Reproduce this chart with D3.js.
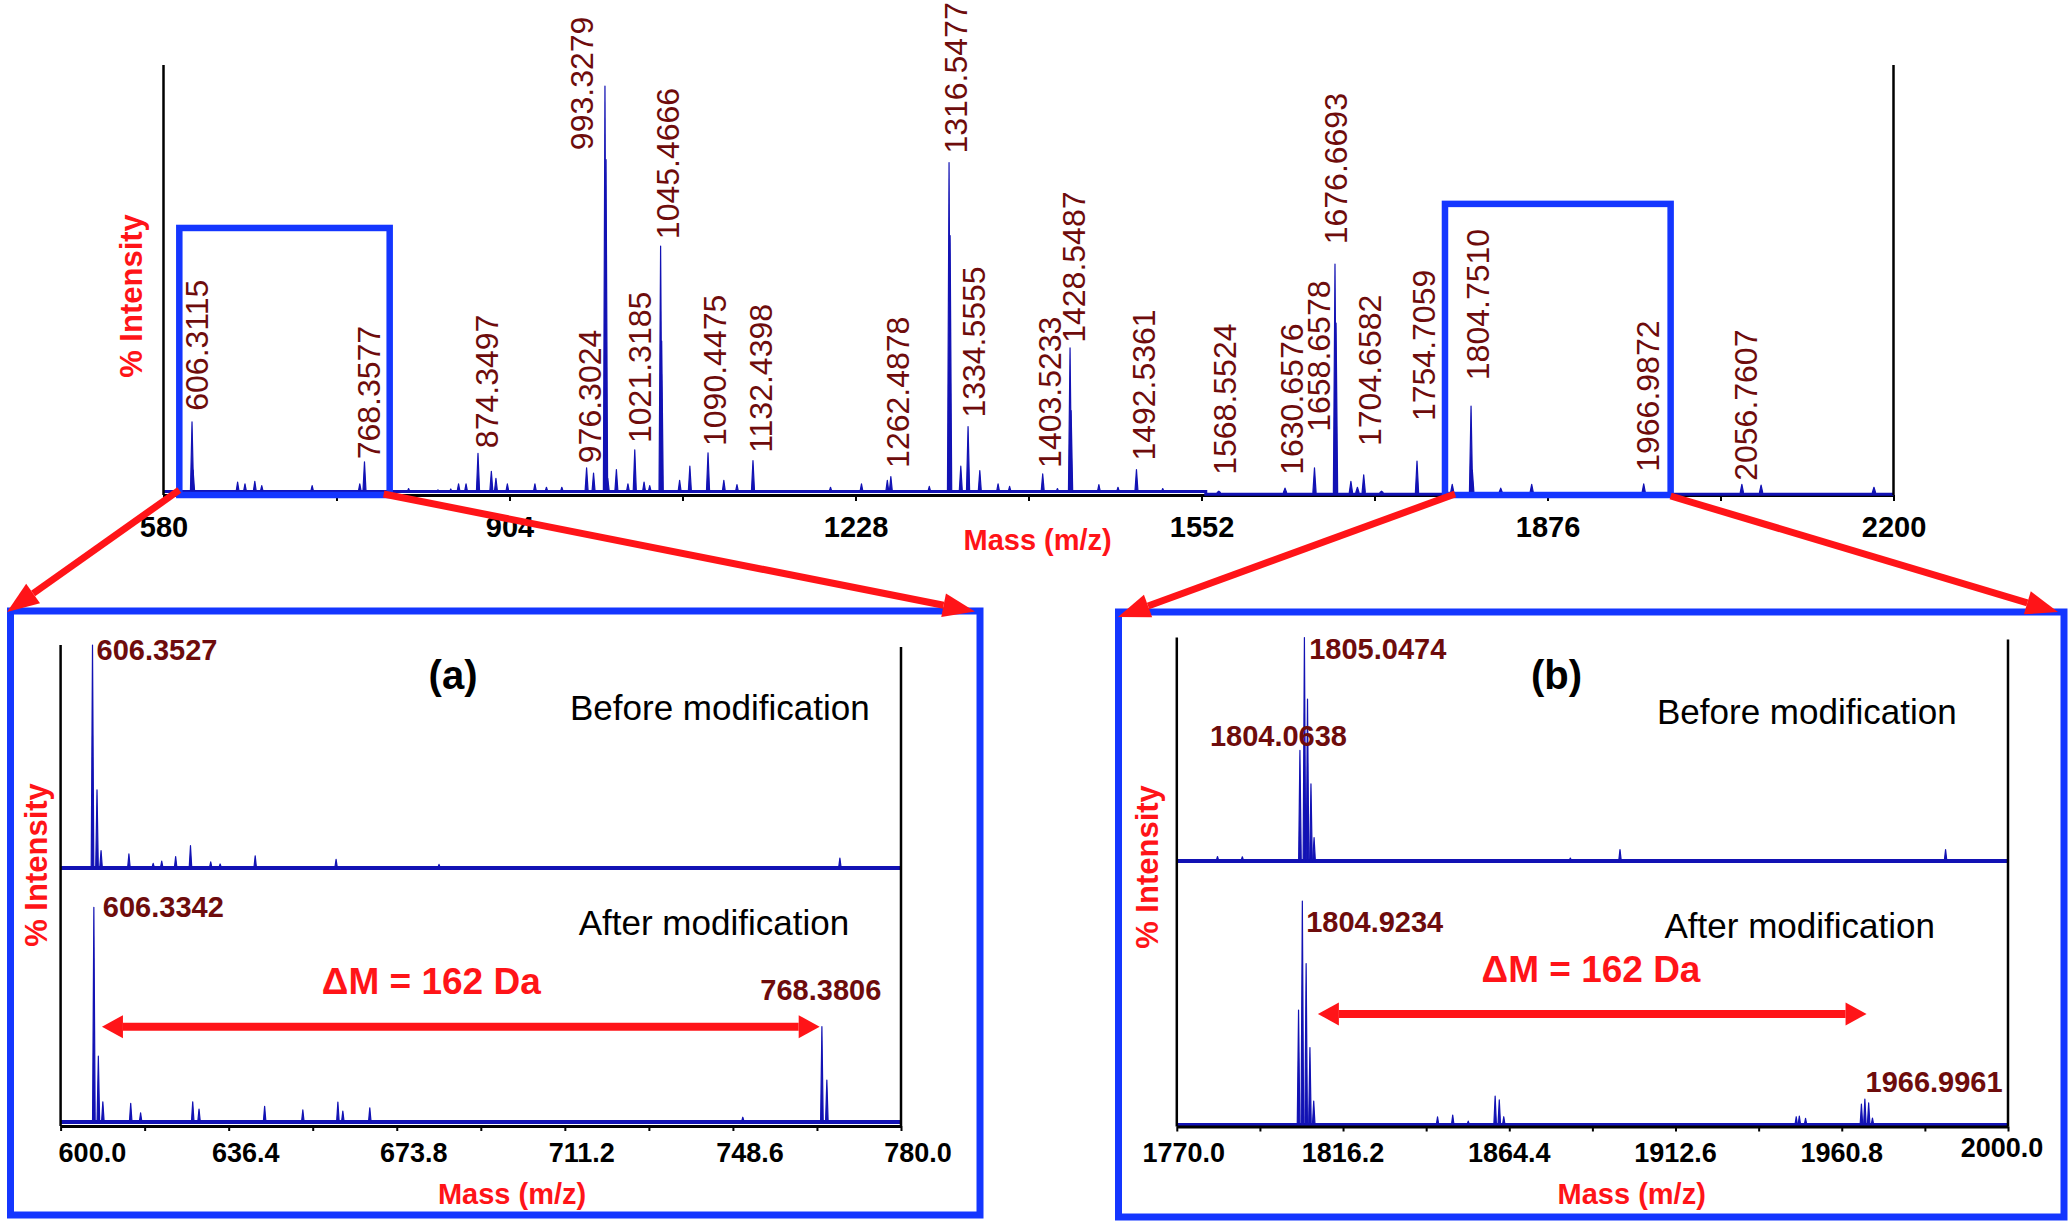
<!DOCTYPE html>
<html>
<head>
<meta charset="utf-8">
<script src="https://cdn.jsdelivr.net/npm/d3@7"></script>
<style>
  body { margin: 0; background: #fff; }
  svg { display: block; }
  text { font-family: "Liberation Sans", Arial, sans-serif; }
</style>
</head>
<body>
<svg></svg>
<script>
// ---------- overview spectrum (580 - 2200)
const topTicks = [580, 742, 904, 1066, 1228, 1390, 1552, 1714, 1876, 2038, 2200];
const topPeakText = ["606.3115", "768.3577", "874.3497", "976.3024", "993.3279", "1021.3185",
  "1045.4666", "1090.4475", "1132.4398", "1262.4878", "1316.5477", "1334.5555", "1403.5233",
  "1428.5487", "1492.5361", "1568.5524", "1630.6576", "1658.6578", "1676.6693", "1704.6582",
  "1754.7059", "1804.7510", "1966.9872", "2056.7607"];
const topPeakMz = [606.7, 768.2, 874.5, 976.2, 993.4, 1021.3, 1045.5, 1089.9, 1132.0, 1261.1,
  1315.6, 1333.4, 1403.3, 1428.9, 1491.1, 1568.2, 1630.2, 1657.8, 1677.0, 1703.9, 1753.8,
  1804.4, 1966.1, 2058.0];
const topPeakInt = [17.0, 7.7, 9.7, 6.3, 95.1, 10.5, 57.9, 9.8, 8.0, 4.3, 77.3, 15.9, 4.9,
  34.2, 5.9, 0.9, 1.6, 6.3, 53.7, 4.7, 7.9, 20.7, 2.6, 2.5];
// where each rotated label starts (m/z of its centre, intensity of its lower end)
const topTextMz = [611.1, 772.4, 882.0, 978.8, 971.0, 1025.6, 1051.5, 1095.5, 1138.6, 1267.5,
  1321.2, 1338.5, 1410.0, 1432.1, 1497.7, 1573.6, 1636.7, 1662.0, 1677.9, 1709.7, 1760.3,
  1810.5, 1969.6, 2061.1];
const topTextInt = [19.6, 8.3, 10.9, 7.4, 80.2, 12.1, 59.5, 11.4, 9.8, 6.3, 79.4, 18.0, 6.3,
  35.4, 8.0, 4.7, 4.7, 14.7, 58.3, 11.4, 17.2, 26.7, 5.4, 3.3];
const topMinorMz = [607.7, 649.4, 656.3, 665.5, 672.0, 719.2, 763.8, 809.5, 837.0, 849.0, 856.3,
  863.3, 887.0, 891.3, 902.0, 927.8, 938.6, 953.0, 982.7, 994.4, 996.0, 1004.1, 1014.9, 1030.0,
  1035.3, 1046.5, 1063.3, 1072.9, 1104.7, 1117.0, 1204.6, 1233.6, 1257.8, 1297.1, 1316.6, 1326.6,
  1344.4, 1361.5, 1372.3, 1417.1, 1429.9, 1455.9, 1473.8, 1515.7, 1678.0, 1691.9, 1698.0, 1720.6,
  1786.8, 1805.6, 1832.2, 1861.2, 2076.0, 2181.7];
const topMinorInt = [5.8, 3.0, 2.6, 3.2, 2.2, 2.2, 2.6, 1.5, 1.2, 1.4, 2.6, 2.6, 5.5, 3.9, 2.6,
  2.6, 1.8, 1.8, 5.1, 78.0, 3.9, 5.9, 2.6, 3.0, 2.2, 35.8, 3.4, 6.7, 3.4, 2.4, 1.8, 2.6, 3.4, 2.0,
  60.3, 6.7, 5.7, 2.6, 2.0, 1.5, 19.6, 2.4, 1.8, 1.5, 40.0, 3.2, 1.8, 0.9, 2.5, 5.8, 1.6, 2.5,
  2.3, 1.8];
const topFloor = [[580, 0.8], [1556, 0.8], [1556, 0.2], [2200, 0.2]];
const zoomRanges = [[594.8, 791.8, 62.1], [1780.0, 1991.3, 67.7]];

// ---------- panel (a), 600 - 780
const aTicks = [599, 617.7, 636.4, 655.1, 673.8, 692.5, 711.2, 729.9, 748.6, 767.3, 786];
const aTickText = ["600.0", "636.4", "673.8", "711.2", "748.6", "780.0"];
const aTickAt = [599, 636.4, 673.8, 711.2, 748.6, 786];
const aBeforeMz = [606.1, 607.1, 608.0, 614.2, 619.6, 621.5, 624.6, 627.9, 632.4, 634.5, 642.3,
  660.3, 683.2, 772.4];
const aBeforeInt = [100, 35, 7.8, 6.3, 2.1, 3.1, 5.1, 10, 2.8, 1.8, 5.5, 3.9, 1.6, 4.4];
const aAfterMz = [606.4, 607.4, 608.4, 614.6, 616.8, 628.4, 629.8, 644.4, 652.9, 660.7, 661.8,
  667.8, 750.8, 768.4, 769.5];
const aAfterInt = [94.6, 29, 8.9, 8.2, 4, 8.9, 5.7, 6.9, 5.3, 8.8, 4.8, 6.2, 2.1, 42, 18.5];
const aLabels = [["606.3527", 607.0, 93.3, "before"], ["606.3342", 608.4, 90.4, "after"],
  ["768.3806", 754.7, 53.7, "after"]];
const aDelta = [608.2, 767.9, 42];

// ---------- panel (b), 1770 - 2000
const bTicks = [1768, 1792.1, 1816.2, 1840.3, 1864.4, 1888.5, 1912.6, 1936.7, 1960.8, 1984.9, 2009];
const bTickText = ["1770.0", "1816.2", "1864.4", "1912.6", "1960.8", "2000.0"];
const bTickAt = [1768, 1816.2, 1864.4, 1912.6, 1960.8, 2009];
const bBeforeMz = [1779.8, 1787.0, 1803.7, 1805.0, 1805.9, 1806.9, 1807.8, 1882.1, 1896.5, 1990.9];
const bBeforeInt = [2, 1.9, 49.5, 100, 72.5, 34.5, 10.5, 1.3, 5.1, 5.1];
const bAfterMz = [1803.3, 1804.4, 1805.5, 1806.6, 1807.7, 1843.6, 1848.0, 1852.5, 1860.3, 1861.5,
  1862.8, 1947.6, 1948.5, 1950.3, 1966.5, 1967.5, 1968.6, 1969.7];
const bAfterInt = [50, 97.4, 70.2, 33.7, 10.4, 3.5, 4.3, 1.7, 12.6, 10.9, 3.6, 3.6, 3.9, 2.9, 9.1,
  11.3, 9.6, 3];
const bLabels = [["1805.0474", 1806.4, 90.6, "before"], ["1804.0638", 1777.6, 51.3, "before"],
  ["1804.9234", 1805.5, 84.0, "after"], ["1966.9961", 1967.7, 14.5, "after"]];
const bDelta = [1808.9, 1968.0, 48.3];

const FRAME = "#1436ff", RED = "#ff1418", SPEC = "#1212b4", LABEL = "#6e0c0c";

let svg = d3.select("svg").attr("width", 2071).attr("height", 1221);
svg.append("rect").attr("width", 2071).attr("height", 1221).style("fill", "#fff");

function spectrum(g, x, y, mz, inten, floor, halfW) {
    let base = y(floor);
    g.append("line")
        .attr("x1", x.range()[0]).attr("x2", x.range()[1])
        .attr("y1", base).attr("y2", base)
        .style("stroke", SPEC).style("stroke-width", 4);
    g.selectAll(null)
        .data(d3.zip(mz, inten))
        .join("path")
        .attr("d", d => `M${x(d[0]) - halfW},${base}L${x(d[0])},${y(d[1])}L${x(d[0]) + halfW},${base}Z`)
        .style("fill", SPEC).style("stroke", SPEC)
        .style("stroke-width", 1.2).style("stroke-linejoin", "round");
}

function vline(x, y1, y2, w) {
    svg.append("line").attr("x1", x).attr("x2", x).attr("y1", y1).attr("y2", y2)
        .style("stroke", "#000").style("stroke-width", w);
}

function arrowHead(x1, y1, x2, y2, len, half) {
    let a = Math.atan2(y2 - y1, x2 - x1);
    let bx = x2 - len * Math.cos(a), by = y2 - len * Math.sin(a);
    let px = -Math.sin(a) * half, py = Math.cos(a) * half;
    svg.append("polygon")
        .attr("points", `${x2},${y2} ${bx + px},${by + py} ${bx - px},${by - py}`)
        .style("fill", RED);
    return [bx, by];
}

function arrow(x1, y1, x2, y2, len, half, w, both) {
    let e = arrowHead(x1, y1, x2, y2, len, half);
    let s = both ? arrowHead(x2, y2, x1, y1, len, half) : [x1, y1];
    svg.append("line")
        .attr("x1", s[0]).attr("y1", s[1]).attr("x2", e[0]).attr("y2", e[1])
        .style("stroke", RED).style("stroke-width", w);
}

function title(txt, x, y, size, fill, weight, anchor, rot) {
    return svg.append("text")
        .attr("transform", `translate(${x},${y})` + (rot ? " rotate(-90)" : ""))
        .attr("text-anchor", anchor || "middle")
        .style("font-size", size + "px").style("font-weight", weight || "normal")
        .style("fill", fill).text(txt);
}

// ================= overview =================
let xTop = d3.scaleLinear().domain([580, 2200]).range([163.5, 1893.5]);
let yTop = d3.scaleLinear().domain([0, 100]).range([495, 65]);
let overview = svg.append("g");

vline(xTop(580), yTop(100), yTop(0), 2.5);
vline(xTop(2200), yTop(100), yTop(0), 2.5);

overview.append("g")
    .attr("transform", `translate(0,${yTop(0)})`)
    .call(d3.axisBottom(xTop).tickValues(topTicks).tickSize(6).tickSizeOuter(0).tickPadding(15)
        .tickFormat((d, i) => i % 2 ? "" : d))
    .call(g => g.select(".domain").style("stroke-width", 3))
    .call(g => g.selectAll("line").style("stroke-width", 2))
    .call(g => g.selectAll("text").style("font-size", "29px").style("font-weight", "bold")
        .style("font-family", "'Liberation Sans', Arial, sans-serif").style("fill", "#000"));

overview.append("path")
    .attr("d", d3.line().x(d => xTop(d[0])).y(d => yTop(d[1]))(topFloor))
    .style("fill", "none").style("stroke", SPEC).style("stroke-width", 3);
let topSpec = overview.append("g");
topSpec.selectAll(null)
    .data(d3.zip(topMinorMz.concat(topPeakMz), topMinorInt.concat(topPeakInt)))
    .join("path")
    .attr("d", d => {
        let x = xTop(d[0]), b = yTop(0.6);
        return `M${x - 1.6},${b}L${x},${yTop(d[1])}L${x + 1.6},${b}Z`;
    })
    .style("fill", SPEC).style("stroke", SPEC).style("stroke-width", 1.2)
    .style("stroke-linejoin", "round");

overview.selectAll(null)
    .data(d3.range(topPeakText.length))
    .join("text")
    .attr("transform", i => `translate(${xTop(topTextMz[i]) + 11.5},${yTop(topTextInt[i])}) rotate(-90)`)
    .style("font-size", "32px").style("fill", LABEL)
    .text(i => topPeakText[i]);

// zoom boxes
overview.selectAll(null)
    .data(zoomRanges)
    .join("rect")
    .attr("x", d => xTop(d[0])).attr("width", d => xTop(d[1]) - xTop(d[0]))
    .attr("y", d => yTop(d[2])).attr("height", d => yTop(0) - yTop(d[2]))
    .style("fill", "none").style("stroke", FRAME).style("stroke-width", 6.5);

title("% Intensity", 141.5, 296, 31, RED, "bold", "middle", true);
title("Mass (m/z)", 1037.6, 550, 29, RED, "bold");

// ================= zoom panels =================
function panel(cfg) {
    let x = d3.scaleLinear().domain(cfg.domain).range(cfg.xr);
    let yB = d3.scaleLinear().domain([0, 100]).range(cfg.yBefore);
    let yA = d3.scaleLinear().domain([0, 100]).range(cfg.yAfter);
    let g = svg.append("g");

    spectrum(g, x, yB, cfg.beforeMz, cfg.beforeInt, 0, 1.3);
    spectrum(g, x, yA, cfg.afterMz, cfg.afterInt, 0, 1.3);

    vline(cfg.xr[0], cfg.yBefore[1], cfg.axisY, 2.5);
    vline(cfg.xr[1], cfg.yBefore[1] + 2, cfg.axisY, 2.5);

    g.append("g")
        .attr("transform", `translate(0,${cfg.axisY})`)
        .call(d3.axisBottom(x).tickValues(cfg.ticks).tickSize(5).tickSizeOuter(0).tickFormat(""))
        .call(s => s.select(".domain").style("stroke-width", 3))
        .call(s => s.selectAll("line").style("stroke-width", 2));

    g.selectAll(null)
        .data(d3.range(cfg.tickText.length))
        .join("text")
        .attr("x", i => x(cfg.tickAt[i]) + cfg.tickDx[i])
        .attr("y", i => cfg.tickY[i])
        .attr("text-anchor", i => cfg.tickAnchor[i])
        .style("font-size", "27px").style("font-weight", "bold")
        .text(i => cfg.tickText[i]);

    g.selectAll(null)
        .data(cfg.labels)
        .join("text")
        .attr("x", d => x(d[1]))
        .attr("y", d => (d[3] === "before" ? yB : yA)(d[2]))
        .style("font-size", "29px").style("font-weight", "bold").style("fill", LABEL)
        .text(d => d[0]);

    let ay = yA(cfg.delta[2]);
    arrow(x(cfg.delta[0]), ay, x(cfg.delta[1]), ay, 21, 11.5, 8, true);

    svg.append("rect")
        .attr("x", cfg.frame[0]).attr("y", cfg.frame[1])
        .attr("width", cfg.frame[2] - cfg.frame[0]).attr("height", cfg.frame[3] - cfg.frame[1])
        .style("fill", "none").style("stroke", FRAME).style("stroke-width", 7);
}

panel({
    domain: [599, 786], xr: [60.6, 901],
    yBefore: [868, 645], yAfter: [1122, 895], axisY: 1126,
    beforeMz: aBeforeMz, beforeInt: aBeforeInt, afterMz: aAfterMz, afterInt: aAfterInt,
    ticks: aTicks, tickText: aTickText, tickAt: aTickAt,
    tickDx: [-2, 17, 17, 17, 17, 17], tickY: [1162, 1162, 1162, 1162, 1162, 1162],
    tickAnchor: ["start", "middle", "middle", "middle", "middle", "middle"],
    labels: aLabels, delta: aDelta,
    frame: [10.5, 611, 980, 1215]
});

panel({
    domain: [1768, 2009], xr: [1176.8, 2008],
    yBefore: [861, 637.6], yAfter: [1125, 895], axisY: 1126.5,
    beforeMz: bBeforeMz, beforeInt: bBeforeInt, afterMz: bAfterMz, afterInt: bAfterInt,
    ticks: bTicks, tickText: bTickText, tickAt: bTickAt,
    tickDx: [7, 0, 0, 0, 0, -6], tickY: [1162, 1162, 1162, 1162, 1162, 1157],
    tickAnchor: ["middle", "middle", "middle", "middle", "middle", "middle"],
    labels: bLabels, delta: bDelta,
    frame: [1118.5, 612, 2064, 1217]
});

// panel texts
title("(a)", 453, 689, 40, "#000", "bold");
title("(b)", 1556.5, 689, 40, "#000", "bold");
title("Before modification", 570, 720, 35, "#000", "normal", "start");
title("After modification", 578.7, 934.6, 35, "#000", "normal", "start");
title("Before modification", 1657, 724, 35, "#000", "normal", "start");
title("After modification", 1664.5, 938, 35, "#000", "normal", "start");
title("\u0394M = 162 Da", 431.3, 994, 37, RED, "bold");
title("\u0394M = 162 Da", 1591, 982, 37, RED, "bold");
title("% Intensity", 46.5, 865, 31, RED, "bold", "middle", true);
title("% Intensity", 1157.5, 867, 31, RED, "bold", "middle", true);
title("Mass (m/z)", 512, 1204, 29, RED, "bold");
title("Mass (m/z)", 1631.7, 1204, 29, RED, "bold");

// connectors from the zoom boxes to the panels
arrow(xTop(zoomRanges[0][0]), 490, 7, 612, 32, 12, 7);
arrow(xTop(zoomRanges[0][1]) - 6, 494, 975, 611.5, 32, 12, 7);
arrow(xTop(zoomRanges[1][0]) + 10, 494, 1118, 617, 32, 12, 7);
arrow(xTop(zoomRanges[1][1]), 496, 2058, 612, 32, 12, 7);
</script>
</body>
</html>
